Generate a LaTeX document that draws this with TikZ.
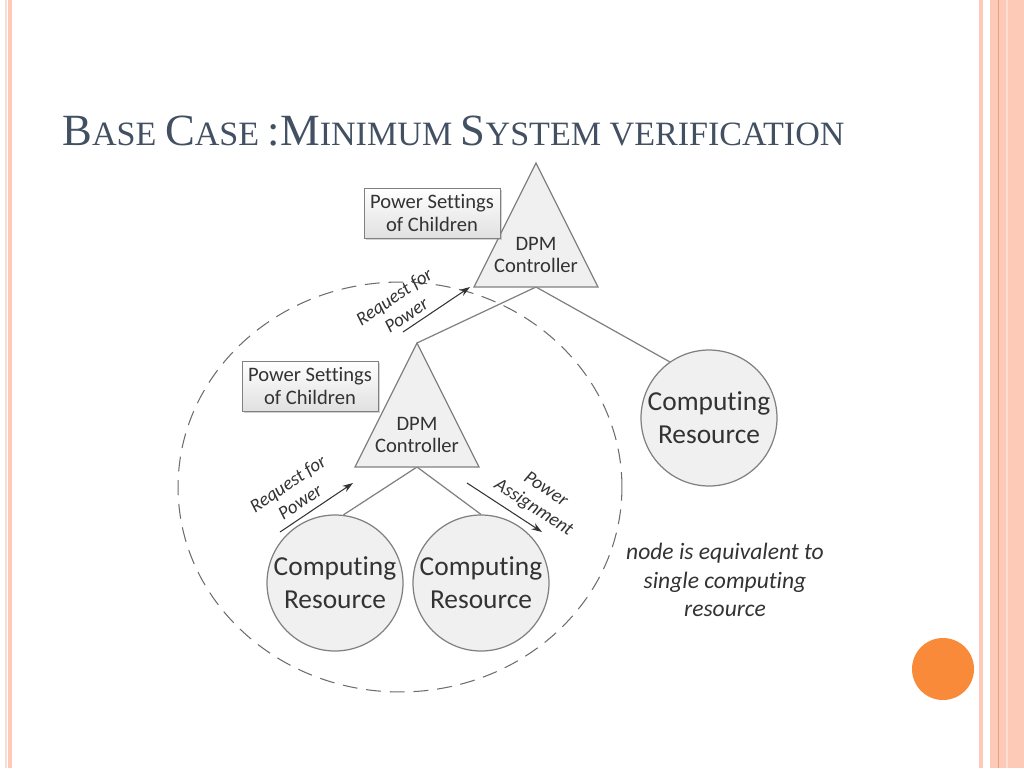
\documentclass[tikz,border=0pt]{standalone}
\usepackage{fontspec}
\setmainfont{Carlito}[Ligatures=NoCommon]
\newfontfamily\titlefont{Liberation Serif}
\usetikzlibrary{shapes,arrows.meta,positioning,calc,shadows}
\definecolor{titleblue}{RGB}{66,80,98}
\definecolor{linegray}{RGB}{128,128,128}
\definecolor{textgray}{RGB}{51,51,51}
\definecolor{shapefill}{RGB}{240,240,240}
\definecolor{stripepink}{RGB}{252,202,182}
\definecolor{stripepale}{RGB}{250,222,210}
\definecolor{stripedark}{RGB}{226,160,134}
\definecolor{dotorange}{RGB}{248,138,58}
\def\trianglehalf{62}
\def\triangleheight{124}
\newcommand{\bigsc}[1]{{\fontsize{25.4}{25}\selectfont #1}}
\newcommand{\smallsc}[1]{{\fontsize{19.4}{19}\selectfont #1}}

\begin{document}
\begin{tikzpicture}[x=0.02cm,y=-0.02cm,
    wire/.style={linegray, line width=0.7pt},
    pointer/.style={textgray, line width=0.6pt, -{Stealth[length=6pt,width=4pt]}},
    ctrlshape/.style={draw=linegray, fill=shapefill, line width=0.7pt, line join=miter},
    ctrltext/.style={text=textgray, align=center, font=\fontsize{11.7}{13}\selectfont},
    resource/.style={circle, draw=linegray, fill=shapefill, line width=0.7pt,
      minimum size=2.72cm, inner sep=0pt, align=center, text=textgray,
      font=\fontsize{15.6}{18.7}\selectfont},
    settings/.style={draw=linegray, top color=white, bottom color=black!12,
      drop shadow={opacity=0.35, shadow xshift=1.2pt, shadow yshift=-1.2pt},
      minimum width=2.72cm, minimum height=1.0cm, inner sep=1pt, align=center,
      text=textgray, font=\fontsize{11.7}{13.6}\selectfont},
    arrowlabel/.style={text=textgray, align=center, sloped, inner sep=1pt,
      font=\itshape\fontsize{10.8}{12.5}\selectfont}
  ]
  \useasboundingbox (0,0) rectangle (1024,768);

  % slide frame
  \fill[stripepale] (5,0) rectangle (7,768);
  \fill[stripepink] (8,0) rectangle (12,768);
  \fill[stripepink] (979,0) rectangle (983,768);
  \fill[stripepink] (990,0) rectangle (1024,768);
  \draw[stripedark, line width=0.5pt] (998,0) -- (998,768);
  \draw[stripepale, line width=1pt] (1007,0) -- (1007,768);
  \fill[dotorange] (943,669) circle (31);

  \node[anchor=base west, text=titleblue, font=\titlefont, inner sep=0pt] (title) at (62,145)
    {\bigsc{B}\smallsc{ASE }\bigsc{C}\smallsc{ASE }\bigsc{:M}\smallsc{INIMUM }\bigsc{S}\smallsc{YSTEM VERIFICATION}};

  % node boundary
  \draw[linegray!85!black, line width=0.6pt, dash pattern=on 8.5pt off 5pt] (400,487) ellipse [x radius=4.44cm, y radius=4.1cm];

  % controllers
  \coordinate (TopApex) at (536,163);
  \coordinate (TopBL) at ($ (TopApex) + (-\trianglehalf,\triangleheight) $);
  \coordinate (TopBR) at ($ (TopApex) + (\trianglehalf,\triangleheight) $);
  \coordinate (TopBase) at ($ (TopBL)!0.5!(TopBR) $);

  \coordinate (LowApex) at (417,343);
  \coordinate (LowBL) at ($ (LowApex) + (-\trianglehalf,\triangleheight) $);
  \coordinate (LowBR) at ($ (LowApex) + (\trianglehalf,\triangleheight) $);
  \coordinate (LowBase) at ($ (LowBL)!0.5!(LowBR) $);

  \node[resource] (comp-right) at (709,418) {Computing\\Resource};
  \node[resource] (comp-left) at (335,583) {Computing\\Resource};
  \node[resource] (comp-mid) at (481,583) {Computing\\Resource};

  \draw[wire] (TopBase) -- (LowApex);
  \draw[wire] (TopBase) -- (comp-right.125);
  \draw[wire] (LowBase) -- (comp-left.83);
  \draw[wire] (LowBase) -- (comp-mid.north);

  \draw[ctrlshape] (TopApex) -- (TopBL) -- (TopBR) -- cycle;
  \draw[ctrlshape] (LowApex) -- (LowBL) -- (LowBR) -- cycle;
  \node[ctrltext] (top-ctrl) at ($ (TopApex) + (0,92) $) {DPM\\Controller};
  \node[ctrltext] (low-ctrl) at ($ (LowApex) + (0,92) $) {DPM\\Controller};

  \node[settings] (top-settings) at (432,213) {Power Settings\\of Children};
  \node[settings] (low-settings) at (310,386) {Power Settings\\of Children};

  % requests and assignments
  \coordinate (ReqTopS) at (403,332);
  \coordinate (ReqTopE) at (470,287);
  \coordinate (ReqLowS) at (280,532);
  \coordinate (ReqLowE) at (353,483);
  \coordinate (AsgS) at (467,483);
  \coordinate (AsgE) at (542,532);

  \draw[pointer] (ReqTopS) -- (ReqTopE) node[arrowlabel, midway, above=2pt, xshift=-16pt] (req-top) {Request for\\Power};
  \draw[pointer] (ReqLowS) -- (ReqLowE) node[arrowlabel, midway, above=3pt, xshift=-6pt] (req-low) {Request for\\Power};
  \draw[pointer] (AsgS) -- (AsgE) node[arrowlabel, midway, above=3pt, xshift=14pt] (asg) {Power\\Assignment};

  \node[text=textgray, align=center, font=\itshape\fontsize{13.4}{16.2}\selectfont] (note) at (725,580)
    {node is equivalent to\\single computing\\resource};
\end{tikzpicture}
\end{document}
